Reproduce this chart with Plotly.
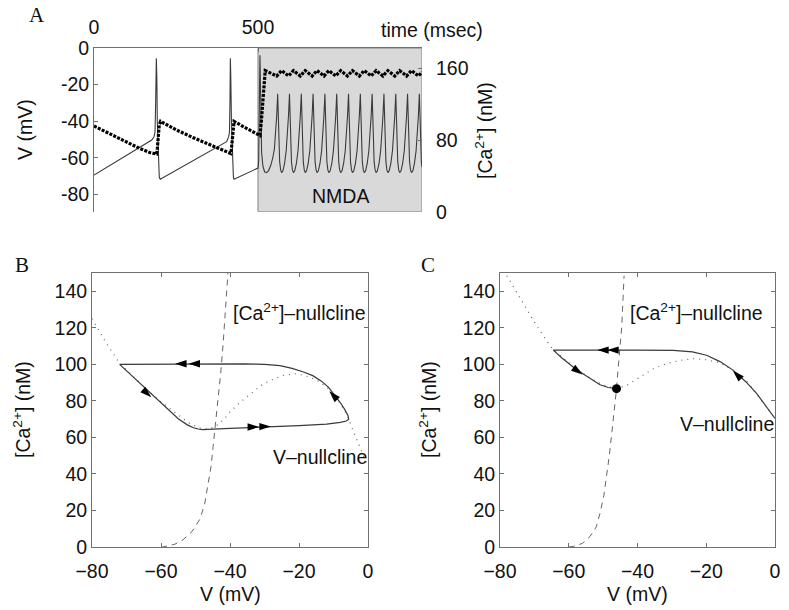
import plotly.graph_objects as go

# ---------------- Panel A data ----------------
time_v = [0, 176, 183, 186, 188, 190, 191.5, 193, 196, 199, 202,
          404.5, 410.6, 413, 414.5, 415.7, 417, 419, 422, 425, 427,
          500, 502, 503.5, 504.5, 506, 508, 511, 515, 520, 526, 532, 539, 545, 550, 554, 557,
          560, 563, 566, 569, 572, 576, 581, 586, 590, 593,
          596, 599, 602, 605, 608, 612, 617, 622, 626, 629,
          632, 635, 638, 641, 644, 648, 653, 658, 662, 665,
          668, 671, 674, 677, 680, 684, 689, 694, 698, 701,
          704, 707, 710, 713, 716, 720, 725, 730, 734, 737,
          740, 743, 746, 749, 752, 756, 761, 766, 770, 773,
          776, 779, 782, 785, 788, 792, 797, 802, 806, 809,
          812, 815, 818, 821, 824, 828, 833, 838, 842, 845,
          848, 851, 854, 857, 860, 864, 869, 874, 878, 881,
          884, 887, 890, 893, 896, 900, 905, 910, 914, 917,
          920, 923, 926, 929, 932, 936, 941, 946, 950, 953,
          956, 959, 962, 965, 968, 972, 977, 982, 986, 989,
          992, 995, 998, 1000]
v_mv = [-69.3, -50.2, -48.4, -46, -30, -5.6, -15, -40, -62, -70.5, -71.6,
        -51.1, -48.4, -46, -30, -5.6, -15, -40, -62, -70.5, -71.6,
        -65.5, -62, -50, -25, -4, -35, -57, -64.5, -67.5, -68, -67, -64, -60, -55, -47, -37,
        -25, -50, -62, -66.5, -68, -67, -63, -56, -47, -37,
        -25, -50, -62, -66.5, -68, -67, -63, -56, -47, -37,
        -25, -50, -62, -66.5, -68, -67, -63, -56, -47, -37,
        -25, -50, -62, -66.5, -68, -67, -63, -56, -47, -37,
        -25, -50, -62, -66.5, -68, -67, -63, -56, -47, -37,
        -25, -50, -62, -66.5, -68, -67, -63, -56, -47, -37,
        -25, -50, -62, -66.5, -68, -67, -63, -56, -47, -37,
        -25, -50, -62, -66.5, -68, -67, -63, -56, -47, -37,
        -25, -50, -62, -66.5, -68, -67, -63, -56, -47, -37,
        -25, -50, -62, -66.5, -68, -67, -63, -56, -47, -37,
        -25, -50, -62, -66.5, -68, -67, -63, -56, -47, -37,
        -25, -50, -62, -66.5, -68, -67, -63, -56, -47, -37,
        -25, -50, -62, -65]

time_ca = [0, 45, 89, 140, 170, 186, 191, 193, 195, 197, 199, 203, 250, 300, 350, 400, 412, 417,
           419, 421, 423, 425, 427, 450, 500, 506, 510, 514, 518, 522,
           557, 572, 593, 608, 629, 644, 665, 680, 701, 716, 737, 752, 773, 788,
           809, 824, 845, 860, 881, 896, 917, 932, 953, 968, 989, 1000]
ca_nm = [95.6, 87.5, 80, 70.5, 66, 64.4, 64.4, 70, 78, 88, 97, 100.8, 91.5, 83, 75, 67.5, 65.5, 65,
         70, 80, 92, 99, 100.8, 96, 85.5, 85, 100, 122, 145, 157.5,
         151.5, 157.5, 151.5, 157.5, 151.5, 157.5, 151.5, 157.5, 151.5, 157.5, 151.5, 157.5, 151.5, 157.5,
         151.5, 157.5, 151.5, 157.5, 151.5, 157.5, 151.5, 157.5, 151.5, 157.5, 151.5, 155.9]

nmda_window = [500, 1000]
a_time_ticks = [0, 500]
a_v_ticks = [0, -20, -40, -60, -80]
a_v_ticktext = ["0", "-20", "-40", "-60", "-80"]
a_ca_ticks = [0, 80, 160]

# ---------------- Panel B data ----------------
b_cycle_v = [-72, -69, -65.5, -62, -58.5, -55, -52.5, -50.6, -49.2, -48, -40, -30, -20, -12, -8,
             -6.3, -5.6, -5.8, -6.8, -8.2, -9.8, -11.5, -13.5, -16, -18.7, -22, -25.5, -30, -36,
             -50, -65, -72]
b_cycle_ca = [100, 94.7, 88.5, 82.4, 76.2, 70.2, 67, 65.3, 64.6, 64.3, 64.9, 65.6, 66.5, 67.3, 68.2,
              69, 70, 72, 75.5, 79.5, 83.5, 87.5, 90.8, 93.8, 95.8, 97.8, 99.3, 100, 100.3,
              100.3, 100.3, 100]
b_vnull_v = [-80, -76, -72, -68, -64, -60, -56, -52, -49, -46.5, -44.3, -42, -40, -37.5, -35.2,
             -32.5, -30.3, -27, -24.5, -20.7, -16.8, -13.9, -11, -8.5, -6, -4.2, -2.4, -1, 0]
b_vnull_ca = [125, 112, 100.5, 93, 86, 79.5, 73.5, 68, 65.2, 64.6, 65.8, 69.4, 73.9, 78.5, 82.1,
              86, 89.4, 92.2, 94, 94.9, 93, 90.3, 86, 80, 72, 63, 54.9, 48.5, 44]
b_cnull_v = [-60, -59.5, -56, -53.6, -51, -48.8, -47.4, -46.4, -45.5, -44.9, -44.2, -43.5, -42.7,
             -42, -41.3, -40.6]
b_cnull_ca = [0, 0, 1.5, 4, 8.5, 15, 23, 33, 44, 55, 67, 78.5, 95, 111, 130, 150]
b_arrow_v = [-55.9, -52, -62.8, -31.6, -28.2, -11.2]
b_arrow_ca = [100.3, 100.3, 82, 65.7, 65.9, 85.2]
b_arrow_angle = [270, 270, 132, 90, 90, -44]

# ---------------- Panel C data ----------------
c_traj_v = [0, -2.5, -5.3, -8.5, -12.1, -16, -19.9, -24, -29.6, -40, -55, -64.5, -62, -58.7, -56,
            -53, -50.9, -48.5, -46.1]
c_traj_ca = [70.4, 76.5, 84, 90.5, 96.7, 101.5, 105, 106.8, 107.6, 107.8, 107.8, 107.8, 103.5,
             98.5, 95, 91.5, 88.8, 87.3, 86.7]
c_vnull_v = [-78, -75, -72.2, -70.3, -68.4, -66.5, -64.5, -61, -58, -55, -52, -49, -46.1, -43.1,
             -39.3, -35.4, -31.5, -27.6, -23.7, -19.9, -16, -12.1, -8, -4, 0]
c_vnull_ca = [148.5, 139, 129.5, 124, 118.5, 113, 108, 102.5, 98, 94, 90.5, 88, 86.7, 88.5,
              93, 97.6, 100.4, 102.2, 103.1, 102.5, 100.8, 96.5, 90.3, 80.5, 70.4]
c_cnull_v = [-60, -58.7, -56, -53.8, -52, -50.9, -49.8, -49, -48.2, -47.5, -46.8, -46.1, -45.4,
             -44.6, -43.9]
c_cnull_ca = [0, 0.3, 2, 5.8, 11, 18.5, 28, 38.5, 50, 62, 74, 86.7, 103, 120, 148.5]
c_arrow_v = [-51.7, -48.8, -56, -12.2]
c_arrow_ca = [107.8, 107.8, 94.5, 96.4]
c_arrow_angle = [270, 270, 125, -45]
c_fixed_v = [-46.1]
c_fixed_ca = [86.7]

pp_v_ticks = [-80, -60, -40, -20, 0]
pp_ca_ticks = [0, 20, 40, 60, 80, 100, 120, 140]

# ---------------- figure ----------------
W, H = 789, 610
FONT = "Liberation Sans, Arial, Helvetica, sans-serif"
SERIF = "Liberation Serif, Times New Roman, serif"
TXT = "#111111"
LINE = "#3a3a3a"
AX = "#707070"
FS = 19.5

fig = go.Figure()

# Panel A
fig.add_trace(go.Scatter(x=time_v, y=v_mv, xaxis="x", yaxis="y", mode="lines",
                         line=dict(color=LINE, width=1.1), hoverinfo="skip"))
fig.add_trace(go.Scatter(x=time_ca, y=ca_nm, xaxis="x", yaxis="y2", mode="lines",
                         line=dict(color="black", width=3.2, dash="3px,1.3px"), hoverinfo="skip"))

# Panel B
fig.add_trace(go.Scatter(x=b_cnull_v, y=b_cnull_ca, xaxis="x3", yaxis="y3", mode="lines",
                         line=dict(color="#666", width=1, dash="6px,5px")))
fig.add_trace(go.Scatter(x=b_vnull_v, y=b_vnull_ca, xaxis="x3", yaxis="y3", mode="lines",
                         line=dict(color="#666", width=1.2, dash="1px,5px")))
fig.add_trace(go.Scatter(x=b_cycle_v, y=b_cycle_ca, xaxis="x3", yaxis="y3", mode="lines",
                         line=dict(color=LINE, width=1.2)))
fig.add_trace(go.Scatter(x=b_arrow_v, y=b_arrow_ca, xaxis="x3", yaxis="y3", mode="markers",
                         marker=dict(symbol="arrow", size=12, color="black", angle=b_arrow_angle,
                                     line=dict(width=0))))

# Panel C
fig.add_trace(go.Scatter(x=c_cnull_v, y=c_cnull_ca, xaxis="x4", yaxis="y4", mode="lines",
                         line=dict(color="#666", width=1, dash="6px,5px")))
fig.add_trace(go.Scatter(x=c_vnull_v, y=c_vnull_ca, xaxis="x4", yaxis="y4", mode="lines",
                         line=dict(color="#666", width=1.2, dash="1px,5px")))
fig.add_trace(go.Scatter(x=c_traj_v, y=c_traj_ca, xaxis="x4", yaxis="y4", mode="lines",
                         line=dict(color=LINE, width=1.2)))
fig.add_trace(go.Scatter(x=c_arrow_v, y=c_arrow_ca, xaxis="x4", yaxis="y4", mode="markers",
                         marker=dict(symbol="arrow", size=12, color="black", angle=c_arrow_angle,
                                     line=dict(width=0))))
fig.add_trace(go.Scatter(x=c_fixed_v, y=c_fixed_ca, xaxis="x4", yaxis="y4", mode="markers",
                         marker=dict(symbol="circle", size=9, color="black")))

tickfont = dict(family=FONT, size=FS, color=TXT)
common = dict(showgrid=False, zeroline=False, tickfont=tickfont, ticks="inside", ticklen=4,
              tickcolor=AX, linecolor=AX, linewidth=1, automargin=False)

fig.update_layout(
    width=W, height=H, margin=dict(l=0, r=0, t=0, b=0, pad=0, autoexpand=False),
    paper_bgcolor="white", plot_bgcolor="white", showlegend=False, hovermode=False,
    font=dict(family=FONT, size=FS, color=TXT),
    xaxis=dict(domain=[94 / W, 422 / W], range=[0, 1000], side="top", anchor="y",
               tickvals=a_time_ticks, ticktext=[str(t) for t in a_time_ticks],
               showline=True, ticklabelstandoff=5, **common),
    yaxis=dict(domain=[1 - 211.7 / H, 1 - 48 / H], range=[-89.3, 0], anchor="x",
               tickvals=a_v_ticks, ticktext=a_v_ticktext, showline=True, **common),
    yaxis2=dict(overlaying="y", side="right", anchor="x", range=[0, 182.7],
                tickvals=a_ca_ticks, showline=False, ticklabelstandoff=13, **common),
    xaxis3=dict(domain=[92 / W, 368 / W], range=[-80, 0], anchor="y3", tickvals=pp_v_ticks,
                showline=True, mirror="ticks", ticklabelstandoff=7, **common),
    yaxis3=dict(domain=[1 - 547 / H, 1 - 273 / H], range=[0, 150], anchor="x3",
                tickvals=pp_ca_ticks, showline=True, mirror="ticks", **common),
    xaxis4=dict(domain=[500 / W, 775 / W], range=[-80, 0], anchor="y4", tickvals=pp_v_ticks,
                showline=True, mirror="ticks", ticklabelstandoff=7, **common),
    yaxis4=dict(domain=[1 - 547 / H, 1 - 273 / H], range=[0, 150], anchor="x4",
                tickvals=pp_ca_ticks, showline=True, mirror="ticks", **common),
)

fig.add_shape(type="rect", xref="x", yref="y", x0=nmda_window[0], x1=nmda_window[1],
              y0=-89.3, y1=0, fillcolor="#d9d9d9", line=dict(color="#808080", width=1),
              layer="below")

tf = dict(family=FONT, size=FS, color=TXT)
ann = []
def pa(text, x, y, angle=0, font=tf, xanchor="center"):
    ann.append(dict(text=text, x=x / W, y=1 - y / H, xref="paper", yref="paper", showarrow=False,
                    textangle=angle, font=font, xanchor=xanchor, yanchor="middle"))

pa("A", 37, 15, font=dict(family=SERIF, size=21, color=TXT))
pa("B", 22, 265, font=dict(family=SERIF, size=21, color=TXT))
pa("C", 428, 265, font=dict(family=SERIF, size=21, color=TXT))
pa("time (msec)", 432, 30)
pa("V (mV)", 25, 130, angle=-90)
pa("[Ca<sup>2+</sup>] (nM)", 484, 130, angle=-90)
pa("[Ca<sup>2+</sup>] (nM)", 22, 410, angle=-90)
pa("[Ca<sup>2+</sup>] (nM)", 428, 410, angle=-90)
pa("V (mV)", 230, 594)
pa("V (mV)", 637, 594)

ann.append(dict(text="NMDA", x=750, y=-81, xref="x", yref="y", showarrow=False, font=tf))
ann.append(dict(text="[Ca<sup>2+</sup>]–nullcline", x=-20, y=128.5, xref="x3", yref="y3",
                showarrow=False, font=tf))
ann.append(dict(text="V–nullcline", x=-14, y=49.3, xref="x3", yref="y3", showarrow=False, font=tf))
ann.append(dict(text="[Ca<sup>2+</sup>]–nullcline", x=-22.8, y=128.5, xref="x4", yref="y4",
                showarrow=False, font=tf))
ann.append(dict(text="V–nullcline", x=-13.9, y=67.6, xref="x4", yref="y4", showarrow=False, font=tf))

fig.update_layout(annotations=ann)
fig.write_html("out.html", config={"displayModeBar": False, "staticPlot": True},
               post_script="document.body.style.margin='0';document.body.style.overflow='hidden';")
